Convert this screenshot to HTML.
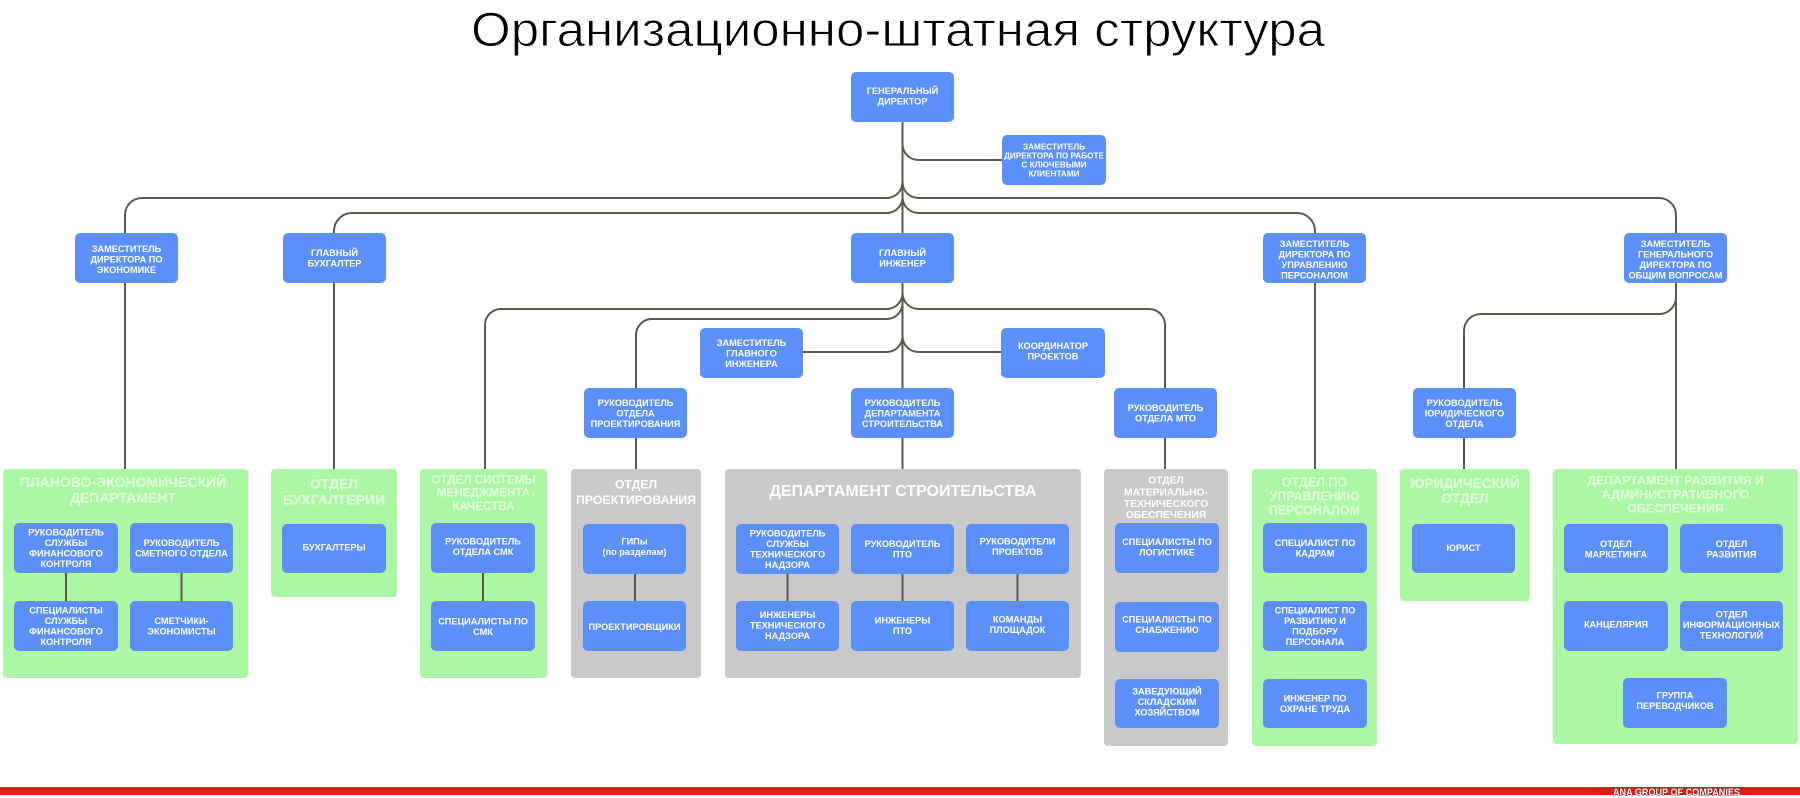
<!DOCTYPE html>
<html><head><meta charset="utf-8"><style>
html,body{margin:0;padding:0;background:#fff;}
svg{display:block;}
.n{fill:#5b8ff9;}
.g{fill:#abf7a3;}
.s{fill:#c9c9c9;}
.t{font-family:"Liberation Sans",Arial,sans-serif;font-weight:bold;font-size:9.2px;fill:#fff;text-anchor:middle;}
.tc{font-family:"Liberation Sans",Arial,sans-serif;font-weight:bold;font-size:8.2px;fill:#fff;text-anchor:middle;}
.hg{font-family:"Liberation Sans",Arial,sans-serif;font-weight:bold;fill:#e4fde0;text-anchor:middle;}
.hs{font-family:"Liberation Sans",Arial,sans-serif;font-weight:bold;fill:#ffffff;text-anchor:middle;}
.l{fill:none;stroke:#5a594e;stroke-width:2;}
</style></head><body>
<svg width="1800" height="798" viewBox="0 0 1800 798" xmlns="http://www.w3.org/2000/svg">
<rect x="0" y="0" width="1800" height="798" fill="#fff"/>
<text x="471" y="46" font-family="'Liberation Sans',Arial,sans-serif" font-size="48" fill="#000" stroke="#fff" stroke-width="0.9" textLength="854" lengthAdjust="spacingAndGlyphs">Организационно-штатная структура</text>

<!-- connectors -->
<g class="l">
<path d="M902.5 121 L902.5 233"/>
<path d="M902.5 144 A16 16 0 0 0 918.5 160 L1002 160"/>
<path d="M902.5 182 A16 16 0 0 1 886.5 198 L142 198 A17 17 0 0 0 125 215 L125 233"/>
<path d="M902.5 182 A16 16 0 0 0 918.5 198 L1659 198 A17 17 0 0 1 1676 215 L1676 233"/>
<path d="M902.5 197 A16 16 0 0 1 886.5 213 L352 213 A18 18 0 0 0 334 231 L334 233"/>
<path d="M902.5 197 A16 16 0 0 0 918.5 213 L1297 213 A18 18 0 0 1 1315 231 L1315 233"/>
<path d="M125 283 L125 469"/>
<path d="M334 283 L334 469"/>
<path d="M1315 283 L1315 469"/>
<path d="M1676 283 L1676 469"/>
<path d="M902.5 283 L902.5 388"/>
<path d="M902.5 293 A16 16 0 0 1 886.5 309 L501 309 A16 16 0 0 0 485 325 L485 469"/>
<path d="M902.5 293 A16 16 0 0 0 918.5 309 L1149 309 A16 16 0 0 1 1165 325 L1165 388"/>
<path d="M902.5 303 A16 16 0 0 1 886.5 319 L652 319 A16 16 0 0 0 636 335 L636 388"/>
<path d="M902.5 336 A16 16 0 0 1 886.5 352 L803 352"/>
<path d="M902.5 336 A16 16 0 0 0 918.5 352 L1001 352"/>
<path d="M1676 297 A17 17 0 0 1 1659 314 L1481 314 A17 17 0 0 0 1464 331 L1464 388"/>
<path d="M636 438 L636 469"/>
<path d="M902.5 438 L902.5 469"/>
<path d="M1165 438 L1165 469"/>
<path d="M1464 438 L1464 469"/>
</g>

<!-- top nodes -->
<rect class="n" x="851" y="72" width="103" height="50" rx="5"/>
<text class="t" x="902.5" y="94.1">ГЕНЕРАЛЬНЫЙ</text><text class="t" x="902.5" y="104.6">ДИРЕКТОР</text>

<rect class="n" x="1002" y="135" width="104" height="50" rx="5"/>
<text class="tc" x="1054" y="149.4">ЗАМЕСТИТЕЛЬ</text><text class="tc" x="1054" y="158.4">ДИРЕКТОРА ПО РАБОТЕ</text><text class="tc" x="1054" y="167.4">С КЛЮЧЕВЫМИ</text><text class="tc" x="1054" y="176.4">КЛИЕНТАМИ</text>

<rect class="n" x="75" y="233" width="103" height="50" rx="5"/>
<text class="t" x="126.5" y="251.8">ЗАМЕСТИТЕЛЬ</text><text class="t" x="126.5" y="262.3">ДИРЕКТОРА ПО</text><text class="t" x="126.5" y="272.8">ЭКОНОМИКЕ</text>

<rect class="n" x="283" y="233" width="103" height="50" rx="5"/>
<text class="t" x="334.5" y="256.1">ГЛАВНЫЙ</text><text class="t" x="334.5" y="266.6">БУХГАЛТЕР</text>

<rect class="n" x="851" y="233" width="103" height="50" rx="5"/>
<text class="t" x="902.5" y="256.1">ГЛАВНЫЙ</text><text class="t" x="902.5" y="266.6">ИНЖЕНЕР</text>

<rect class="n" x="1263" y="233" width="103" height="50" rx="5"/>
<text class="t" x="1314.5" y="247.2">ЗАМЕСТИТЕЛЬ</text><text class="t" x="1314.5" y="257.7">ДИРЕКТОРА ПО</text><text class="t" x="1314.5" y="268.2">УПРАВЛЕНИЮ</text><text class="t" x="1314.5" y="278.7">ПЕРСОНАЛОМ</text>

<rect class="n" x="1624" y="233" width="103" height="50" rx="5"/>
<text class="t" x="1675.5" y="247.2">ЗАМЕСТИТЕЛЬ</text><text class="t" x="1675.5" y="257.7">ГЕНЕРАЛЬНОГО</text><text class="t" x="1675.5" y="268.2">ДИРЕКТОРА ПО</text><text class="t" x="1675.5" y="278.7">ОБЩИМ ВОПРОСАМ</text>

<rect class="n" x="700" y="328" width="103" height="50" rx="5"/>
<text class="t" x="751.5" y="345.8">ЗАМЕСТИТЕЛЬ</text><text class="t" x="751.5" y="356.3">ГЛАВНОГО</text><text class="t" x="751.5" y="366.8">ИНЖЕНЕРА</text>

<rect class="n" x="1001" y="328" width="104" height="50" rx="5"/>
<text class="t" x="1053" y="348.8">КООРДИНАТОР</text><text class="t" x="1053" y="359.3">ПРОЕКТОВ</text>

<rect class="n" x="584" y="388" width="103" height="50" rx="5"/>
<text class="t" x="635.5" y="405.8">РУКОВОДИТЕЛЬ</text><text class="t" x="635.5" y="416.3">ОТДЕЛА</text><text class="t" x="635.5" y="426.8">ПРОЕКТИРОВАНИЯ</text>

<rect class="n" x="851" y="388" width="103" height="50" rx="5"/>
<text class="t" x="902.5" y="405.8">РУКОВОДИТЕЛЬ</text><text class="t" x="902.5" y="416.3">ДЕПАРТАМЕНТА</text><text class="t" x="902.5" y="426.8">СТРОИТЕЛЬСТВА</text>

<rect class="n" x="1114" y="388" width="103" height="50" rx="5"/>
<text class="t" x="1165.5" y="411.1">РУКОВОДИТЕЛЬ</text><text class="t" x="1165.5" y="421.6">ОТДЕЛА МТО</text>

<rect class="n" x="1413" y="388" width="103" height="50" rx="5"/>
<text class="t" x="1464.5" y="405.8">РУКОВОДИТЕЛЬ</text><text class="t" x="1464.5" y="416.3">ЮРИДИЧЕСКОГО</text><text class="t" x="1464.5" y="426.8">ОТДЕЛА</text>

<!-- departments -->
<rect class="g" x="3" y="469" width="245" height="209" rx="4"/>
<text class="hg" font-size="14" x="123" y="487">ПЛАНОВО-ЭКОНОМИЧЕСКИЙ</text><text class="hg" font-size="14" x="123" y="502.5">ДЕПАРТАМЕНТ</text>

<rect class="g" x="271" y="469" width="126" height="128" rx="4"/>
<text class="hg" font-size="14" x="334" y="488.5">ОТДЕЛ</text><text class="hg" font-size="14" x="334" y="504.5">БУХГАЛТЕРИИ</text>

<rect class="g" x="420" y="469" width="127" height="209" rx="4"/>
<text class="hg" font-size="11.7" x="483.5" y="483.7">ОТДЕЛ СИСТЕМЫ</text><text class="hg" font-size="11.7" x="483.5" y="496.7">МЕНЕДЖМЕНТА</text><text class="hg" font-size="11.7" x="483.5" y="510.2">КАЧЕСТВА</text>

<rect class="s" x="571" y="469" width="130" height="209" rx="4"/>
<text class="hs" font-size="12.3" x="636" y="488.4">ОТДЕЛ</text><text class="hs" font-size="12.3" x="636" y="503.9">ПРОЕКТИРОВАНИЯ</text>

<rect class="s" x="725" y="469" width="356" height="209" rx="4"/>
<text class="hs" font-size="16" x="903" y="495.8">ДЕПАРТАМЕНТ СТРОИТЕЛЬСТВА</text>

<rect class="s" x="1104" y="469" width="124" height="277" rx="4"/>
<text class="hs" font-size="10.3" x="1166" y="483.7">ОТДЕЛ</text><text class="hs" font-size="10.3" x="1166" y="495.4">МАТЕРИАЛЬНО-</text><text class="hs" font-size="10.3" x="1166" y="507">ТЕХНИЧЕСКОГО</text><text class="hs" font-size="10.3" x="1166" y="518">ОБЕСПЕЧЕНИЯ</text>

<rect class="g" x="1252" y="469" width="125" height="277" rx="4"/>
<text class="hg" font-size="12.5" x="1314.5" y="486.5">ОТДЕЛ ПО</text><text class="hg" font-size="12.5" x="1314.5" y="500.5">УПРАВЛЕНИЮ</text><text class="hg" font-size="12.5" x="1314.5" y="514.5">ПЕРСОНАЛОМ</text>

<rect class="g" x="1400" y="469" width="130" height="132" rx="4"/>
<text class="hg" font-size="13.7" x="1465" y="488">ЮРИДИЧЕСКИЙ</text><text class="hg" font-size="13.7" x="1465" y="503">ОТДЕЛ</text>

<rect class="g" x="1553" y="469" width="245" height="275" rx="4"/>
<text class="hg" font-size="12.4" x="1675.5" y="484.5">ДЕПАРТАМЕНТ РАЗВИТИЯ И</text><text class="hg" font-size="12.4" x="1675.5" y="498.5">АДМИНИСТРАТИВНОГО</text><text class="hg" font-size="12.4" x="1675.5" y="512.5">ОБЕСПЕЧЕНИЯ</text>

<!-- inner connectors -->
<g class="l">
<path d="M66 573 L66 601"/><path d="M181.5 573 L181.5 601"/>
<path d="M483 573 L483 601"/>
<path d="M635 574 L635 601"/>
<path d="M787.5 574 L787.5 601"/><path d="M902.5 574 L902.5 601"/><path d="M1017.5 574 L1017.5 601"/>
</g>

<!-- inner nodes -->
<rect class="n" x="14" y="523" width="104" height="50" rx="5"/>
<text class="t" x="66" y="535.6">РУКОВОДИТЕЛЬ</text><text class="t" x="66" y="546.1">СЛУЖБЫ</text><text class="t" x="66" y="556.6">ФИНАНСОВОГО</text><text class="t" x="66" y="567.1">КОНТРОЛЯ</text>
<rect class="n" x="130" y="523" width="103" height="50" rx="5"/>
<text class="t" x="181.5" y="546.1">РУКОВОДИТЕЛЬ</text><text class="t" x="181.5" y="556.6">СМЕТНОГО ОТДЕЛА</text>
<rect class="n" x="14" y="601" width="104" height="50" rx="5"/>
<text class="t" x="66" y="613.6">СПЕЦИАЛИСТЫ</text><text class="t" x="66" y="624.1">СЛУЖБЫ</text><text class="t" x="66" y="634.6">ФИНАНСОВОГО</text><text class="t" x="66" y="645.1">КОНТРОЛЯ</text>
<rect class="n" x="130" y="601" width="103" height="50" rx="5"/>
<text class="t" x="181.5" y="624.1">СМЕТЧИКИ-</text><text class="t" x="181.5" y="634.6">ЭКОНОМИСТЫ</text>

<rect class="n" x="282" y="524" width="104" height="49" rx="5"/>
<text class="t" x="334" y="550.5">БУХГАЛТЕРЫ</text>

<rect class="n" x="431" y="523" width="104" height="50" rx="5"/>
<text class="t" x="483" y="544.4">РУКОВОДИТЕЛЬ</text><text class="t" x="483" y="554.9">ОТДЕЛА СМК</text>
<rect class="n" x="431" y="601" width="104" height="50" rx="5"/>
<text class="t" x="483" y="624.4">СПЕЦИАЛИСТЫ ПО</text><text class="t" x="483" y="634.9">СМК</text>

<rect class="n" x="583" y="524" width="103" height="50" rx="5"/>
<text class="t" x="634.5" y="544.7">ГИПы</text><text class="t" x="634.5" y="555.2">(по разделам)</text>
<rect class="n" x="583" y="601" width="103" height="50" rx="5"/>
<text class="t" x="634.5" y="630">ПРОЕКТИРОВЩИКИ</text>

<rect class="n" x="736" y="524" width="103" height="50" rx="5"/>
<text class="t" x="787.5" y="536.6">РУКОВОДИТЕЛЬ</text><text class="t" x="787.5" y="547.1">СЛУЖБЫ</text><text class="t" x="787.5" y="557.6">ТЕХНИЧЕСКОГО</text><text class="t" x="787.5" y="568.1">НАДЗОРА</text>
<rect class="n" x="851" y="524" width="103" height="50" rx="5"/>
<text class="t" x="902.5" y="546.8">РУКОВОДИТЕЛЬ</text><text class="t" x="902.5" y="557.3">ПТО</text>
<rect class="n" x="966" y="524" width="103" height="50" rx="5"/>
<text class="t" x="1017.5" y="544.6">РУКОВОДИТЕЛИ</text><text class="t" x="1017.5" y="555.1">ПРОЕКТОВ</text>
<rect class="n" x="736" y="601" width="103" height="50" rx="5"/>
<text class="t" x="787.5" y="618.1">ИНЖЕНЕРЫ</text><text class="t" x="787.5" y="628.6">ТЕХНИЧЕСКОГО</text><text class="t" x="787.5" y="639.1">НАДЗОРА</text>
<rect class="n" x="851" y="601" width="103" height="50" rx="5"/>
<text class="t" x="902.5" y="623.3">ИНЖЕНЕРЫ</text><text class="t" x="902.5" y="633.8">ПТО</text>
<rect class="n" x="966" y="601" width="103" height="50" rx="5"/>
<text class="t" x="1017.5" y="622.4">КОМАНДЫ</text><text class="t" x="1017.5" y="632.9">ПЛОЩАДОК</text>

<rect class="n" x="1115" y="523" width="104" height="50" rx="5"/>
<text class="t" x="1167" y="544.9">СПЕЦИАЛИСТЫ ПО</text><text class="t" x="1167" y="555.4">ЛОГИСТИКЕ</text>
<rect class="n" x="1115" y="602" width="104" height="50" rx="5"/>
<text class="t" x="1167" y="622.6">СПЕЦИАЛИСТЫ ПО</text><text class="t" x="1167" y="633.1">СНАБЖЕНИЮ</text>
<rect class="n" x="1115" y="679" width="104" height="49" rx="5"/>
<text class="t" x="1167" y="694.4">ЗАВЕДУЮЩИЙ</text><text class="t" x="1167" y="704.9">СКЛАДСКИМ</text><text class="t" x="1167" y="715.4">ХОЗЯЙСТВОМ</text>

<rect class="n" x="1263" y="523" width="104" height="50" rx="5"/>
<text class="t" x="1315" y="546.2">СПЕЦИАЛИСТ ПО</text><text class="t" x="1315" y="556.7">КАДРАМ</text>
<rect class="n" x="1263" y="601" width="104" height="50" rx="5"/>
<text class="t" x="1315" y="613.6">СПЕЦИАЛИСТ ПО</text><text class="t" x="1315" y="624.1">РАЗВИТИЮ И</text><text class="t" x="1315" y="634.6">ПОДБОРУ</text><text class="t" x="1315" y="645.1">ПЕРСОНАЛА</text>
<rect class="n" x="1263" y="679" width="104" height="49" rx="5"/>
<text class="t" x="1315" y="701.4">ИНЖЕНЕР ПО</text><text class="t" x="1315" y="711.9">ОХРАНЕ ТРУДА</text>

<rect class="n" x="1412" y="524" width="103" height="49" rx="5"/>
<text class="t" x="1463.5" y="551">ЮРИСТ</text>

<rect class="n" x="1564" y="524" width="104" height="49" rx="5"/>
<text class="t" x="1616" y="546.9">ОТДЕЛ</text><text class="t" x="1616" y="557.4">МАРКЕТИНГА</text>
<rect class="n" x="1680" y="524" width="103" height="49" rx="5"/>
<text class="t" x="1731.5" y="546.9">ОТДЕЛ</text><text class="t" x="1731.5" y="557.4">РАЗВИТИЯ</text>
<rect class="n" x="1564" y="601" width="104" height="50" rx="5"/>
<text class="t" x="1616" y="627.3">КАНЦЕЛЯРИЯ</text>
<rect class="n" x="1680" y="601" width="103" height="50" rx="5"/>
<text class="t" x="1731.5" y="617.7">ОТДЕЛ</text><text class="t" x="1731.5" y="628.2">ИНФОРМАЦИОННЫХ</text><text class="t" x="1731.5" y="638.7">ТЕХНОЛОГИЙ</text>
<rect class="n" x="1623" y="678" width="104" height="50" rx="5"/>
<text class="t" x="1675" y="698.4">ГРУППА</text><text class="t" x="1675" y="708.9">ПЕРЕВОДЧИКОВ</text>

<!-- footer -->
<rect x="0" y="787" width="1800" height="8" fill="#f01414"/>
<text x="1613" y="795.5" font-family="'Liberation Sans',Arial,sans-serif" font-weight="bold" font-size="10" fill="#fff" stroke="#222" stroke-width="0.7" paint-order="stroke" textLength="127" lengthAdjust="spacingAndGlyphs">ANA GROUP OF COMPANIES</text>
</svg>
</body></html>
